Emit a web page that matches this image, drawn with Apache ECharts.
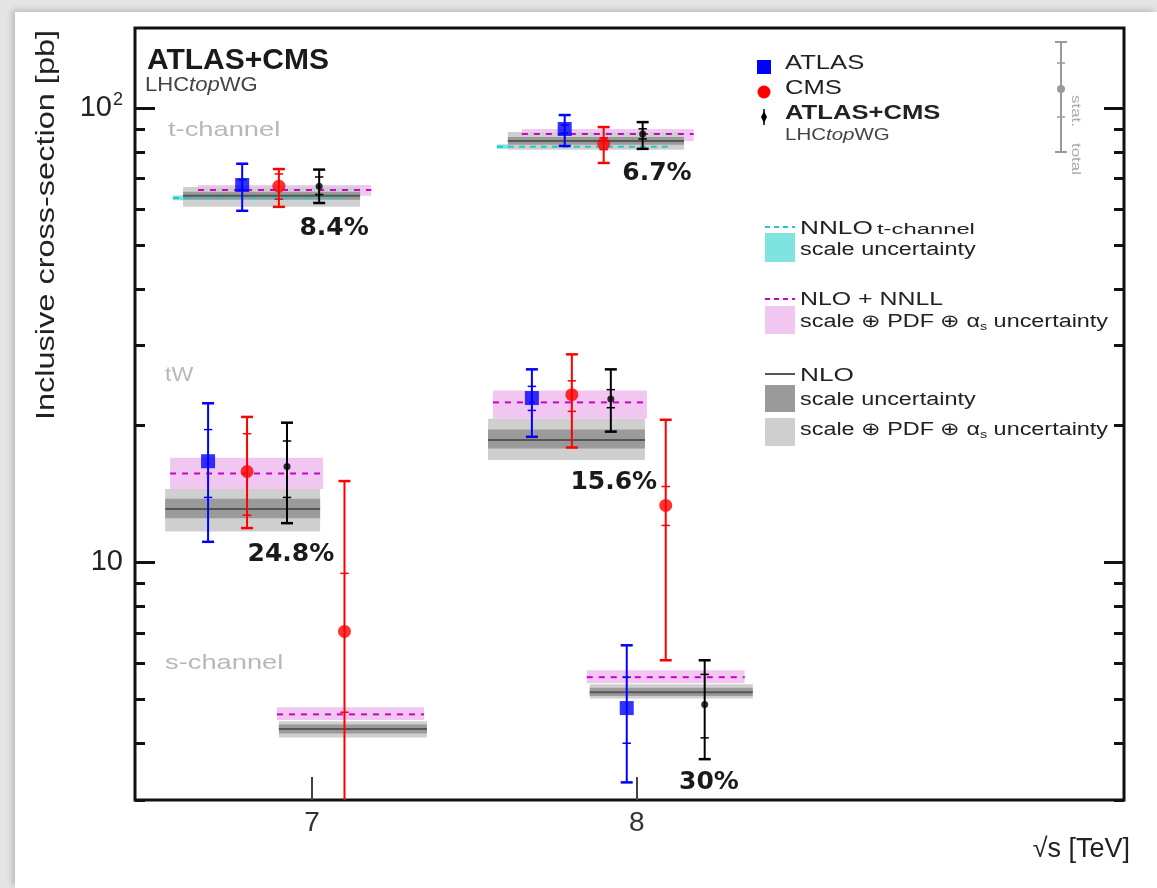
<!DOCTYPE html>
<html>
<head>
<meta charset="utf-8">
<script src="https://cdn.jsdelivr.net/npm/echarts@6/dist/echarts.min.js"></script>
<style>
  html, body { margin: 0; padding: 0; background: #e4e4e4; }
  #panel { position: absolute; left: 15px; top: 12px; right: 0; bottom: 0; background: #fff;
           box-shadow: -3px -2px 6px rgba(0,0,0,0.18); }
  #chart { position: absolute; left: 0; top: 0; width: 1157px; height: 888px; }
</style>
</head>
<body>
<div id="panel"></div>
<div id="chart"></div>
<script>
// ---- single-top cross-sections at sqrt(s) = 7 and 8 TeV ----
// measurement rows: [sqrt(s) position, value, stat low, stat high, total low, total high]  (pb)
const ATLAS = [
  [6.785, 67.7, 66.0, 69.5, 59.4, 75.4],   // t-channel 7 TeV
  [7.778, 89.9, 88.0, 91.8, 82.5, 96.5],   // t-channel 8 TeV
  [6.680, 16.7, 13.9, 19.6, 11.1, 22.4],   // tW 7 TeV
  [7.677, 23.0, 21.6, 24.4, 18.9, 26.6],   // tW 8 TeV
  [7.969, 4.78, 4.00, 5.59, 3.28, 6.57]    // s-channel 8 TeV
];
const CMS = [
  [6.898, 67.3, 63.0, 71.6, 60.6, 73.4],
  [7.898, 83.4, 81.0, 86.0, 75.7, 90.8],
  [6.800, 15.85, 12.7, 19.2, 11.9, 20.9],
  [7.800, 23.4, 21.5, 25.1, 17.9, 28.7],
  [7.100, 7.05, 4.68, 9.46, 0.8, 15.1],    // s-channel 7 TeV
  [8.089, 13.35, 12.06, 14.69, 6.09, 20.6] // s-channel 8 TeV
];
const COMBINED = [
  [7.022, 67.3, 64.5, 70.5, 61.8, 73.2],
  [8.018, 87.7, 85.5, 90.0, 81.3, 93.1],
  [6.923, 16.26, 13.9, 18.5, 12.2, 20.3],
  [7.920, 22.9, 21.9, 24.0, 19.4, 26.6],
  [8.209, 4.87, 4.11, 5.67, 3.69, 6.09]
];
// relative total uncertainty of each combination
const PRECISION = ['8.4%', '6.7%', '24.8%', '15.6%', '30%'];

// theory rows: [x from, x to, central, scale low, scale high, total low, total high]
const NLO = [
  [6.603, 7.148, 64.1, 62.8, 65.4, 60.6, 67.0],
  [7.603, 8.145, 84.6, 83.0, 86.3, 80.9, 88.5],
  [6.548, 7.025, 13.1, 12.5, 13.8, 11.7, 14.5],
  [7.542, 8.025, 18.6, 17.8, 19.6, 16.8, 20.7],
  [6.898, 7.354, 4.30, 4.20, 4.40, 4.12, 4.47],
  [7.855, 8.357, 5.18, 5.08, 5.30, 5.02, 5.39]
];
// [x from, x to, central, low, high]
const NLO_NNLL = [
  [6.649, 7.182, 66.0, 64.1, 67.7],
  [7.646, 8.175, 87.7, 84.6, 89.9],
  [6.563, 7.034, 15.7, 14.5, 17.0],
  [7.557, 8.031, 22.5, 20.7, 23.9],
  [6.892, 7.345, 4.63, 4.50, 4.80],
  [7.846, 8.332, 5.59, 5.42, 5.79]
];
const NNLO_T = [
  [6.572, 7.095, 63.4, 62.7, 64.2],
  [7.569, 8.095, 82.2, 81.3, 83.1]
];

// axis ticks
const X_TICKS = [7, 8];
const Y_MAJOR = [10, 100];
const Y_MINOR = [3, 4, 5, 6, 7, 8, 9, 20, 30, 40, 50, 60, 70, 80, 90];
const X_MIN = 6.455, X_MAX = 9.5, Y_MIN = 3, Y_MAX = 150;

// where the precision labels sit, in axis units
const PRECISION_ANCHOR = [[7.068, 54.2], [8.062, 71.6], [6.935, 10.41], [7.929, 14.99], [8.222, 3.27]];

const SANS = '"Liberation Sans", Arial, Helvetica, sans-serif';
const DEJAVU = '"DejaVu Sans", Verdana, sans-serif';
const WIDE = 1.3;   // horizontal stretch of the plot's lettering

const C = {
  atlas: '#0000ff', cms: '#ff0000', comb: '#000000',
  cyanLine: '#22c8c8', cyanBand: '#7fe3e0',
  magLine: '#cc00cc', pinkBand: '#f1c6f1',
  greyLine: '#555555', greyDark: '#9a9a9a', greyLight: '#cfcfcf',
  ink: '#222222', faint: '#b8b8b8', key: '#9a9a9a'
};

function rect(api, x0, x1, lo, hi, fill) {
  const a = api.coord([x0, hi]);
  const b = api.coord([x1, lo]);
  return { type: 'rect', shape: { x: a[0], y: a[1], width: b[0] - a[0], height: b[1] - a[1] }, style: { fill } };
}
function hline(api, x0, x1, v, stroke, dash) {
  const a = api.coord([x0, v]);
  const b = api.coord([x1, v]);
  return { type: 'line', shape: { x1: a[0], y1: a[1], x2: b[0], y2: b[1] },
           style: { stroke, lineWidth: 2, lineDash: dash || null } };
}

function bandSeries(name, data, build, z) {
  return {
    type: 'custom', name, data, z, clip: true,
    encode: { x: [0, 1], y: [2] },
    renderItem: (params, api) => build(api, data[params.dataIndex])
  };
}

function errorBars(name, data, color, cap) {
  return {
    type: 'custom', name, data, z: 20, clip: true,
    encode: { x: 0, y: [1, 4, 5] },
    renderItem: (params, api) => {
      const r = data[params.dataIndex];
      const tHi = api.coord([r[0], r[5]]);
      const tLo = api.coord([r[0], r[4]]);
      const sHi = api.coord([r[0], r[3]]);
      const sLo = api.coord([r[0], r[2]]);
      const x = tHi[0];
      const ln = (x1, y1, x2, y2, w) => ({ type: 'line', shape: { x1, y1, x2, y2 }, style: { stroke: color, lineWidth: w } });
      return { type: 'group', children: [
        ln(x, tHi[1], x, tLo[1], 2),
        ln(x - cap, tHi[1], x + cap, tHi[1], 2.5),
        ln(x - cap, tLo[1], x + cap, tLo[1], 2.5),
        ln(x - cap * 0.7, sHi[1], x + cap * 0.7, sHi[1], 1.5),
        ln(x - cap * 0.7, sLo[1], x + cap * 0.7, sLo[1], 1.5)
      ] };
    }
  };
}

const yBase = {
  type: 'log', logBase: 10, min: Y_MIN, max: Y_MAX, gridIndex: 0,
  axisLine: { show: false }, splitLine: { show: false }
};
function yAxisDef(position, values, len, labels) {
  return Object.assign({}, yBase, {
    position,
    axisTick: { show: true, inside: true, length: len, customValues: values, lineStyle: { color: '#111', width: 3 } },
    axisLabel: labels ? {
      show: true, customValues: Y_MAJOR, margin: 12, color: C.ink, fontFamily: SANS, fontSize: 29,
      formatter: v => (Math.round(v) === 100 ? '10{sup|2}' : '10'),
      rich: { sup: { fontSize: 18, fontFamily: SANS, color: C.ink, padding: [0, 0, 16, 1] } }
    } : { show: false }
  });
}

// text helper for annotation lettering
function T(x, y, text, font, extra) {
  return Object.assign({ type: 'text', x, y, scaleX: WIDE,
    style: { text, font, fill: C.ink, textVerticalAlign: 'middle' } }, extra || {});
}
function richT(x, y, text, rich, extra) {
  return Object.assign({ type: 'text', x, y, scaleX: WIDE,
    style: { text, rich, textVerticalAlign: 'middle' } }, extra || {});
}
const alphaRich = {
  a: { fontFamily: SANS, fontSize: 18, fill: C.ink },
  s: { fontFamily: SANS, fontSize: 11, fill: C.ink, padding: [10, 0, 0, 0] }
};
const topwgRich = size => ({
  a: { fontFamily: SANS, fontSize: size, fill: '#444' },
  b: { fontFamily: SANS, fontSize: size, fontStyle: 'italic', fill: '#444' }
});

const option = {
  backgroundColor: 'transparent',
  animation: false,
  grid: { left: 135, top: 28, right: 33, bottom: 88, show: true, borderColor: '#111', borderWidth: 3, backgroundColor: 'transparent' },
  xAxis: {
    type: 'value', min: X_MIN, max: X_MAX,
    axisLine: { show: false }, splitLine: { show: false },
    axisTick: { show: true, inside: true, length: 23, customValues: X_TICKS, lineStyle: { color: '#444', width: 2 } },
    axisLabel: { show: true, customValues: X_TICKS, margin: 9, color: '#333', fontFamily: SANS, fontSize: 28 }
  },
  yAxis: [
    yAxisDef('left', Y_MAJOR, 20, true),
    yAxisDef('left', Y_MINOR, 10, false),
    yAxisDef('right', Y_MAJOR, 20, false),
    yAxisDef('right', Y_MINOR, 10, false)
  ],
  series: [
    bandSeries('NNLO scale', NNLO_T, (api, r) => rect(api, r[0], r[1], r[3], r[4], C.cyanBand), 2),
    bandSeries('NLO+NNLL band', NLO_NNLL, (api, r) => rect(api, r[0], r[1], r[3], r[4], C.pinkBand), 3),
    bandSeries('NLO bands', NLO, (api, r) => ({ type: 'group', children: [
      rect(api, r[0], r[1], r[5], r[6], C.greyLight),
      rect(api, r[0], r[1], r[3], r[4], C.greyDark),
      hline(api, r[0], r[1], r[2], C.greyLine)
    ] }), 4),
    bandSeries('NLO+NNLL', NLO_NNLL, (api, r) => hline(api, r[0], r[1], r[2], C.magLine, [6, 6]), 6),
    bandSeries('NNLO t-channel', NNLO_T, (api, r) => hline(api, r[0], r[1], r[2], C.cyanLine, [6, 5]), 6),
    errorBars('ATLAS bars', ATLAS, C.atlas, 6),
    errorBars('CMS bars', CMS, C.cms, 6),
    errorBars('ATLAS+CMS bars', COMBINED, C.comb, 6),
    { type: 'scatter', name: 'ATLAS', data: ATLAS.map(r => [r[0], r[1]]), symbol: 'rect', symbolSize: 14,
      itemStyle: { color: C.atlas }, z: 30, clip: true },
    { type: 'scatter', name: 'CMS', data: CMS.map(r => [r[0], r[1]]), symbol: 'circle', symbolSize: 13,
      itemStyle: { color: C.cms }, z: 30, clip: true },
    { type: 'scatter', name: 'ATLAS+CMS', data: COMBINED.map(r => [r[0], r[1]]), symbol: 'circle', symbolSize: 7,
      itemStyle: { color: C.comb }, z: 30, clip: true },
    { type: 'custom', name: 'precision', data: PRECISION_ANCHOR, z: 25, clip: false,
      encode: { x: 0, y: 1 },
      renderItem: (params, api) => {
        const p = api.coord([api.value(0), api.value(1)]);
        return { type: 'text', x: p[0], y: p[1],
          style: { text: PRECISION[params.dataIndex], fill: '#1a1a1a', font: 'bold 25px ' + DEJAVU,
                   textAlign: 'center', textVerticalAlign: 'middle' } };
      } }
  ],
  graphic: { elements: [
    // figure label
    { type: 'text', x: 147, y: 61, style: { text: 'ATLAS+CMS', font: 'bold 30px ' + SANS, fill: '#1a1a1a', textVerticalAlign: 'middle' } },
    richT(145, 85, '{a|LHC}{b|top}{a|WG}', topwgRich(21), { scaleX: 1.05 }),
    // channel names
    T(168, 130, 't-channel', '21px ' + SANS, { style: { text: 't-channel', font: '21px ' + SANS, fill: C.faint, textVerticalAlign: 'middle' } }),
    T(165, 375, 'tW', '21px ' + SANS, { scaleX: 1.1, style: { text: 'tW', font: '21px ' + SANS, fill: C.faint, textVerticalAlign: 'middle' } }),
    T(165, 663, 's-channel', '21px ' + SANS, { style: { text: 's-channel', font: '21px ' + SANS, fill: C.faint, textVerticalAlign: 'middle' } }),
    // axis titles
    { type: 'text', x: 47, y: 225, rotation: Math.PI / 2, scaleX: WIDE,
      style: { text: 'Inclusive cross-section [pb]', font: '25px ' + SANS, fill: C.ink, textAlign: 'center', textVerticalAlign: 'middle' } },
    { type: 'text', x: 1130, y: 850, style: { text: '√s [TeV]', font: '27px ' + SANS, fill: C.ink, textAlign: 'right', textVerticalAlign: 'middle' } },
    // experiment key
    { type: 'rect', shape: { x: 757, y: 60, width: 14, height: 14 }, style: { fill: C.atlas } },
    { type: 'circle', shape: { cx: 764, cy: 92, r: 6.5 }, style: { fill: C.cms } },
    { type: 'polygon', shape: { points: [[764, 111], [767, 117], [764, 123], [761, 117]] }, style: { fill: '#000' } },
    { type: 'line', shape: { x1: 764, y1: 109, x2: 764, y2: 125 }, style: { stroke: '#000', lineWidth: 1.5 } },
    T(785, 63, 'ATLAS', '21px ' + SANS, { scaleX: 1.22 }),
    T(785, 88, 'CMS', '21px ' + SANS, { scaleX: 1.22 }),
    T(785, 113, 'ATLAS+CMS', 'bold 21px ' + SANS, { scaleX: 1.22 }),
    richT(785, 136, '{a|LHC}{b|top}{a|WG}', topwgRich(16), { scaleX: 1.28 }),
    // stat / total key
    { type: 'line', shape: { x1: 1061, y1: 42, x2: 1061, y2: 152 }, style: { stroke: C.key, lineWidth: 2 } },
    { type: 'line', shape: { x1: 1055, y1: 42, x2: 1067, y2: 42 }, style: { stroke: C.key, lineWidth: 2 } },
    { type: 'line', shape: { x1: 1055, y1: 152, x2: 1067, y2: 152 }, style: { stroke: C.key, lineWidth: 2 } },
    { type: 'line', shape: { x1: 1057, y1: 63, x2: 1065, y2: 63 }, style: { stroke: C.key, lineWidth: 1.5 } },
    { type: 'line', shape: { x1: 1057, y1: 117, x2: 1065, y2: 117 }, style: { stroke: C.key, lineWidth: 1.5 } },
    { type: 'circle', shape: { cx: 1061, cy: 89, r: 4 }, style: { fill: C.key } },
    { type: 'text', x: 1076, y: 95, rotation: -Math.PI / 2, scaleX: WIDE, style: { text: 'stat.', font: '13px ' + SANS, fill: '#aaa', textVerticalAlign: 'middle' } },
    { type: 'text', x: 1076, y: 143, rotation: -Math.PI / 2, scaleX: WIDE, style: { text: 'total', font: '13px ' + SANS, fill: '#aaa', textVerticalAlign: 'middle' } },
    // theory key
    { type: 'line', shape: { x1: 765, y1: 227, x2: 795, y2: 227 }, style: { stroke: C.cyanLine, lineWidth: 2, lineDash: [5, 4] } },
    { type: 'rect', shape: { x: 765, y: 233, width: 30, height: 29 }, style: { fill: C.cyanBand } },
    T(800, 229, 'NNLO', '19px ' + SANS, { scaleX: 1.38 }),
    T(877, 230, 't-channel', '14px ' + SANS, { scaleX: 1.7 }),
    T(800, 250, 'scale uncertainty', '18px ' + SANS),
    { type: 'line', shape: { x1: 765, y1: 299, x2: 795, y2: 299 }, style: { stroke: C.magLine, lineWidth: 2, lineDash: [5, 4] } },
    { type: 'rect', shape: { x: 765, y: 306, width: 30, height: 28 }, style: { fill: C.pinkBand } },
    T(800, 300, 'NLO + NNLL', '19px ' + SANS, { scaleX: 1.31 }),
    richT(800, 322, '{a|scale ⊕ PDF ⊕ α}{s|s}{a| uncertainty}', alphaRich),
    { type: 'line', shape: { x1: 765, y1: 374, x2: 795, y2: 374 }, style: { stroke: C.greyLine, lineWidth: 2 } },
    T(800, 376, 'NLO', '19px ' + SANS, { scaleX: 1.38 }),
    { type: 'rect', shape: { x: 765, y: 385, width: 30, height: 27 }, style: { fill: C.greyDark } },
    T(800, 400, 'scale uncertainty', '18px ' + SANS),
    { type: 'rect', shape: { x: 765, y: 418, width: 30, height: 28 }, style: { fill: C.greyLight } },
    richT(800, 430, '{a|scale ⊕ PDF ⊕ α}{s|s}{a| uncertainty}', alphaRich)
  ] }
};

const chart = echarts.init(document.getElementById('chart'), null, { renderer: 'canvas' });
chart.setOption(option);
</script>
</body>
</html>
